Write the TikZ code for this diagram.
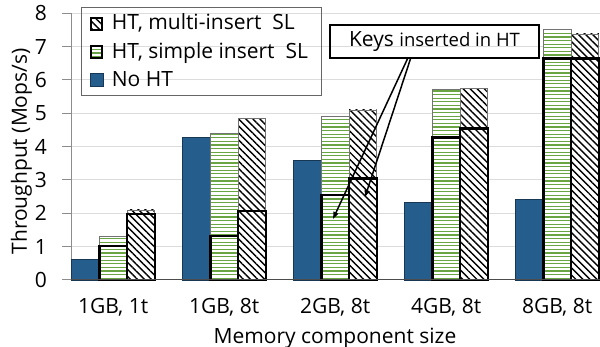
\documentclass[tikz,border=0pt]{standalone}
\usepackage{fontspec}
\setmainfont{Open Sans}
\usetikzlibrary{arrows.meta,patterns.meta,positioning}

% -------------------------------------------------
% Colours
% -------------------------------------------------
\definecolor{nohtblue}{HTML}{255E8C}    % plain bars
\definecolor{simplegreen}{HTML}{6AA543} % horizontal stripes
\definecolor{gridgray}{HTML}{DCDCDC}
\definecolor{axisgray}{HTML}{8C8C8C}

% horizontal green stripes in a box: x, y, width, height
\newcommand{\greenstripes}[4]{%
    \begin{scope}
        \clip (#1,#2) rectangle ++(#3,#4);
        \fill[white] (#1,#2) rectangle ++(#3,#4);
        \foreach \yy in {1.8,5.4,...,254} {
            \draw[simplegreen, line width=1.3pt] (#1,#2) ++(0,\yy pt) -- ++(#3,0);
        }
    \end{scope}
}

\begin{document}
\begin{tikzpicture}[
    x=1pt,
    y=33.33pt,
    line join=miter,
    >=Latex,
    tick/.style={font=\fontsize{21}{24}\selectfont, inner sep=0pt},
    axistitle/.style={font=\fontsize{21}{24}\selectfont, inner sep=0pt},
    legendtext/.style={font=\fontsize{21}{24}\selectfont, anchor=base west, inner sep=0pt},
    gridline/.style={draw=gridgray, line width=1pt},
    axisline/.style={draw=axisgray, line width=1pt},
    nohtbar/.style={fill=nohtblue, draw=nohtblue!60!black, line width=0.6pt},
    simplebar/.style={draw=black!55, line width=0.8pt},
    multibar/.style={
        preaction={fill=white},
        pattern={Lines[angle=-45,distance=5pt,line width=1.4pt]},
        pattern color=black,
        draw=black!55,
        line width=0.8pt
    },
    keyspart/.style={draw=black, line width=2.4pt},
    calloutbox/.style={draw=black, line width=1.6pt, minimum width=209pt,
        minimum height=33pt, inner sep=0pt},
    calloutarrow/.style={-{Triangle[length=7pt,width=5pt]}, line width=1.5pt}
]

\useasboundingbox (-71,-2.01) rectangle (529,8.4);

% -------------------------------------------------
% Axes and grid
% -------------------------------------------------
\foreach \k in {1,...,8} {
    \draw[gridline] (0,\k) -- (529,\k);
}
\foreach \k in {0,...,8} {
    \draw[axisline] (-9,\k) -- (0,\k);
    \node[tick, anchor=east] (ytick\k) at (-24,\k) {\k};
}
\draw[axisline] (0,0) -- (0,8);

\node[axistitle, rotate=90, anchor=base] (ytitle) at (-44,3.855)
{Throughput (Mops/s)};

% -------------------------------------------------
% Bars: noHT / simple (keys, total) / multi (keys, total)
% -------------------------------------------------
\foreach \i/\nh/\sk/\st/\mk/\mt in {
    0/0.63/1.02/1.31/1.98/2.10,
    1/4.27/1.32/4.40/2.07/4.84,
    2/3.60/2.55/4.92/3.05/5.10,
    3/2.33/4.27/5.72/4.54/5.74,
    4/2.41/6.64/7.52/6.64/7.38} {
    \pgfmathsetmacro{\xo}{0.7+111*\i}
    \pgfmathsetmacro{\xs}{\xo+27.7}
    \draw[nohtbar]   (\xo,0) rectangle ++(27.7,\nh);
    \greenstripes{\xs}{0}{27.7}{\st}
    \draw[simplebar] (\xs,0) rectangle ++(27.7,\st);
    \draw[keyspart]  (\xs,0) rectangle ++(27.7,\sk);
    \draw[multibar]  (\xo+55.4,0) rectangle ++(27.7,\mt);
    \draw[keyspart]  (\xo+55.4,0) rectangle ++(27.7,\mk);
}

\draw[axisline, draw=black!70] (0,0) -- (529,0);

\foreach \lab [count=\i from 0] in {{1GB, 1t},{1GB, 8t},{2GB, 8t},{4GB, 8t},{8GB, 8t}} {
    \node[tick, anchor=base] (cat\i) at ({42.2+111*\i},-1.0) {\lab};
}

\node[axistitle, anchor=base] (xtitle) at (264,-1.9) {Memory component size};

% -------------------------------------------------
% Legend
% -------------------------------------------------
\draw[draw=black!60, line width=0.9pt] (10.7,5.55) rectangle (250.7,8.19);

\draw[multibar, keyspart, line width=1.8pt] (20,7.5) rectangle ++(11,0.36);
\node[legendtext] (legmulti) at (40.7,7.5) {HT, multi-insert\ \ SL};

\greenstripes{20}{6.65}{11}{0.36}
\draw[keyspart, line width=1.8pt] (20,6.65) rectangle ++(11,0.36);
\node[legendtext] (legsimple) at (40.7,6.65) {HT, simple insert\ \ SL};

\draw[nohtbar] (19,5.8) rectangle ++(13,0.39);
\node[legendtext] (legnoht) at (40.7,5.8) {No HT};

% -------------------------------------------------
% Callout
% -------------------------------------------------
\node[calloutbox, font=\fontsize{18.5}{22}\selectfont] (keys) at (363.5,7.155)
{{\fontsize{21}{24}\selectfont Keys }inserted in HT};

\coordinate (simpletip) at (262,1.83);
\coordinate (multitip) at (294,2.49);

\draw[calloutarrow] ([xshift=-27pt]keys.south) -- (simpletip);
\draw[calloutarrow] ([xshift=-24pt]keys.south) -- (multitip);

\end{tikzpicture}
\end{document}
